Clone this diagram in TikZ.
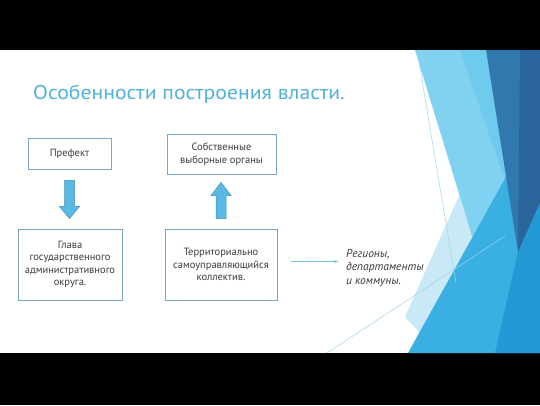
\documentclass[tikz,border=0pt]{standalone}
\usepackage{fontspec}
\setmainfont{PT Sans}
\usetikzlibrary{arrows.meta,calc}
\definecolor{titleblue}{HTML}{52B2DA}
\definecolor{boxline}{HTML}{7BA5C4}
\definecolor{txt}{HTML}{3C3C3C}
\definecolor{arrfill}{HTML}{5AB9E3}
\definecolor{arrline}{HTML}{3D8FC0}
\definecolor{thinarrow}{HTML}{6CC6E4}
\definecolor{pale}{HTML}{C9E9F6}
\definecolor{lightsky}{HTML}{80D2F0}
\definecolor{lightsky2}{HTML}{6ECBEE}
\definecolor{medblue}{HTML}{3AAFE2}
\definecolor{medblue2}{HTML}{2299D5}
\definecolor{darkblue}{HTML}{3178AE}
\definecolor{darkblue2}{HTML}{2A659B}
\definecolor{decoline}{HTML}{9DD5EA}
\begin{document}
\begin{tikzpicture}[x=1pt,y=-1pt,
  box/.style={draw=boxline,line width=0.9pt,fill=white,text=txt,font=\fontsize{10.5}{12.5}\selectfont,align=center,inner sep=0pt},
  blockarrow/.style={fill=arrfill,draw=arrline,line width=0.5pt},
  decor/.style={draw=decoline,line width=0.5pt}]
\useasboundingbox (0,0) rectangle (540,405);
\fill[black] (0,0) rectangle (540,405);
\fill[white] (0,50) rectangle (540,353);
% decoration
\fill[pale] (466,180) -- (505,235) -- (422,335) -- (405,317) -- cycle;
\fill[lightsky] (415,50) -- (486,50) -- (520,256) -- (480,262) -- cycle;
\fill[lightsky2] (460,50) -- (486,50) -- (510,195) -- cycle;
\fill[medblue] (408,353) -- (507,175) -- (540,175) -- (540,353) -- cycle;
\fill[darkblue] (486,50) -- (540,50) -- (540,203) -- (518,252) -- cycle;
\fill[darkblue2] (520,50) -- (540,50) -- (540,203) -- (518,252) -- cycle;
\fill[medblue2] (518,252) -- (540,203) -- (540,353) -- (495,353) -- cycle;
\draw[decor] (417,50) -- (456,283);
\draw[decor] (327,353) -- (505,236);
% title
\node[anchor=base west,text=titleblue,font=\fontsize{20}{23}\selectfont,inner sep=0pt] (title) at (33,99.5) {\scalebox{1.085}[1]{Особенности построения власти.}};
% boxes
\node[box,minimum width=83pt,minimum height=31pt] (prefect) at (69.5,153.5) {Префект};
\node[box,minimum width=109pt,minimum height=40pt] (own) at (221.5,154) {Собственные\\выборные органы};
\node[box,minimum width=104pt,minimum height=71pt] (head) at (70,264.5) {Глава\\государственного\\административного\\округа.};
\node[box,minimum width=112pt,minimum height=71pt] (terr) at (221,264.5) {Территориально\\самоуправляющийся\\коллектив.};
\node[anchor=west,align=left,text=txt,font=\itshape\fontsize{11.5}{13.5}\selectfont,inner sep=0pt] (reg) at (346,268) {Регионы,\\департаменты\\и коммуны.};
% block arrows
\draw[blockarrow] ($(prefect.south)+(-5,11)$) -- ($(prefect.south)+(5,11)$) -- ($(prefect.south)+(5,37)$) -- ($(prefect.south)+(10,37)$) -- ($(head.north)+(-0.5,-10)$) -- ($(prefect.south)+(-10,37)$) -- ($(prefect.south)+(-5,37)$) -- cycle;
\draw[blockarrow] ($(terr.north)+(-5,-10)$) -- ($(terr.north)+(5,-10)$) -- ($(terr.north)+(5,-33)$) -- ($(terr.north)+(10,-33)$) -- ($(own.south)+(-0.5,8)$) -- ($(terr.north)+(-10,-33)$) -- ($(terr.north)+(-5,-33)$) -- cycle;
% thin arrow
\draw[thinarrow,line width=0.6pt,-{Stealth[length=4pt,width=3pt]}] ($(terr.east)+(14,-3)$) -- ($(reg.west |- terr.east)+(-8,-3)$);
\end{tikzpicture}
\end{document}
